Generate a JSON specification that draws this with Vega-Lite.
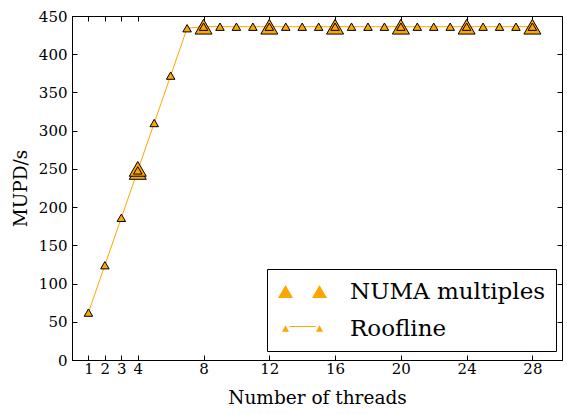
{
  "$schema": "https://vega.github.io/schema/vega-lite/v6.json",
  "width": 490,
  "height": 344,
  "autosize": "none",
  "padding": {"left": 72, "top": 16, "right": 5, "bottom": 54},
  "config": {
    "font": "DejaVu Serif",
    "view": {"stroke": "black", "strokeWidth": 1},
    "axis": {
      "grid": false,
      "ticks": true,
      "domainColor": "black",
      "tickColor": "black",
      "tickWidth": 1,
      "tickSize": 6,
      "labelFont": "DejaVu Serif",
      "labelFontSize": 15,
      "labelColor": "black",
      "titleFont": "DejaVu Serif",
      "titleFontSize": 18.5,
      "titleFontWeight": "normal",
      "titleColor": "black"
    }
  },
  "data": {
    "values": [
      {"threads": 4, "mupd": 246, "series": "NUMA multiples"},
      {"threads": 4, "mupd": 250, "series": "NUMA multiples"},
      {"threads": 8, "mupd": 436, "series": "NUMA multiples"},
      {"threads": 12, "mupd": 436, "series": "NUMA multiples"},
      {"threads": 16, "mupd": 436, "series": "NUMA multiples"},
      {"threads": 20, "mupd": 436, "series": "NUMA multiples"},
      {"threads": 24, "mupd": 436, "series": "NUMA multiples"},
      {"threads": 28, "mupd": 436, "series": "NUMA multiples"},
      {"threads": 1, "mupd": 62, "series": "Roofline"},
      {"threads": 2, "mupd": 124, "series": "Roofline"},
      {"threads": 3, "mupd": 186, "series": "Roofline"},
      {"threads": 4, "mupd": 248, "series": "Roofline"},
      {"threads": 5, "mupd": 310, "series": "Roofline"},
      {"threads": 6, "mupd": 372, "series": "Roofline"},
      {"threads": 7, "mupd": 434, "series": "Roofline"},
      {"threads": 8, "mupd": 436, "series": "Roofline"},
      {"threads": 9, "mupd": 436, "series": "Roofline"},
      {"threads": 10, "mupd": 436, "series": "Roofline"},
      {"threads": 11, "mupd": 436, "series": "Roofline"},
      {"threads": 12, "mupd": 436, "series": "Roofline"},
      {"threads": 13, "mupd": 436, "series": "Roofline"},
      {"threads": 14, "mupd": 436, "series": "Roofline"},
      {"threads": 15, "mupd": 436, "series": "Roofline"},
      {"threads": 16, "mupd": 436, "series": "Roofline"},
      {"threads": 17, "mupd": 436, "series": "Roofline"},
      {"threads": 18, "mupd": 436, "series": "Roofline"},
      {"threads": 19, "mupd": 436, "series": "Roofline"},
      {"threads": 20, "mupd": 436, "series": "Roofline"},
      {"threads": 21, "mupd": 436, "series": "Roofline"},
      {"threads": 22, "mupd": 436, "series": "Roofline"},
      {"threads": 23, "mupd": 436, "series": "Roofline"},
      {"threads": 24, "mupd": 436, "series": "Roofline"},
      {"threads": 25, "mupd": 436, "series": "Roofline"},
      {"threads": 26, "mupd": 436, "series": "Roofline"},
      {"threads": 27, "mupd": 436, "series": "Roofline"},
      {"threads": 28, "mupd": 436, "series": "Roofline"}
    ]
  },
  "layer": [
    {
      "transform": [{"filter": "datum.series === 'Roofline'"}],
      "mark": {"type": "line", "strokeWidth": 1},
      "encoding": {
        "x": {
          "field": "threads", "type": "quantitative",
          "scale": {"domain": [0, 29.8], "nice": false, "zero": false},
          "axis": {"orient": "bottom", "values": [1, 2, 3, 4, 8, 12, 16, 20, 24, 28], "title": "Number of threads", "labelPadding": -5, "titlePadding": 12, "labelFlush": false, "tickOpacity": 0}
        },
        "y": {
          "field": "mupd", "type": "quantitative",
          "scale": {"domain": [0, 450], "nice": false},
          "axis": {"orient": "left", "values": [0, 50, 100, 150, 200, 250, 300, 350, 400, 450], "title": "MUPD/s", "labelPadding": -1, "titlePadding": 8, "labelFlush": false, "tickOpacity": 0}
        },
        "color": {
          "datum": "Roofline",
          "scale": {"range": ["#FFA500"]},
          "legend": {
            "title": null,
            "orient": "none",
            "legendX": 217,
            "legendY": 297,
            "padding": 0,
            "symbolType": "stroke",
            "symbolSize": 676,
            "symbolStrokeWidth": 1,
            "labelExpr": "''",
            "labelOffset": 0,
            "labelFontSize": 1
          }
        }
      }
    },
    {
      "transform": [{"filter": "datum.series === 'NUMA multiples'"}],
      "mark": {"type": "point", "shape": "triangle-up", "filled": true, "fill": "#FFA500", "stroke": "black", "strokeWidth": 1, "opacity": 1, "size": 289},
      "encoding": {
        "x": {"field": "threads", "type": "quantitative", "axis": null},
        "y": {"field": "mupd", "type": "quantitative", "axis": null}
      }
    },
    {
      "transform": [{"filter": "datum.series === 'Roofline'"}],
      "mark": {"type": "point", "shape": "triangle-up", "filled": true, "fill": "#FFA500", "stroke": "black", "strokeWidth": 1, "opacity": 1, "size": 72},
      "encoding": {
        "x": {"field": "threads", "type": "quantitative", "axis": null},
        "y": {"field": "mupd", "type": "quantitative", "axis": null}
      }
    },
    {
      "mark": {"type": "point", "filled": true, "fill": "#FFA500", "stroke": "black", "strokeWidth": 1, "opacity": 0},
      "encoding": {
        "x": {"field": "threads", "type": "quantitative", "axis": null},
        "y": {"field": "mupd", "type": "quantitative", "axis": null},
        "shape": {
          "field": "series", "type": "nominal",
          "scale": {
            "domain": ["NUMA multiples", "Roofline"],
            "range": [
              "M-0.958,0.54L-0.333,-0.54L0.292,0.54Z M1.875,0.54L2.5,-0.54L3.125,0.54Z",
              "M-0.625,0.27L-0.333,-0.27L-0.042,0.27Z M2.208,0.27L2.5,-0.27L2.792,0.27Z"
            ]
          },
          "legend": {
            "title": null,
            "orient": "none",
            "legendX": 195,
            "legendY": 253,
            "direction": "vertical",
            "strokeColor": "black",
            "padding": 10,
            "cornerRadius": 0,
            "labelFont": "DejaVu Serif",
            "labelFontSize": 23,
            "labelColor": "black",
            "labelOffset": 48,
            "labelLimit": 400,
            "symbolSize": 576,
            "symbolFillColor": "#FFA500",
            "symbolStrokeColor": "black",
            "symbolStrokeWidth": 1,
            "symbolOpacity": 1,
            "rowPadding": 12
          }
        }
      }
    },
    {
      "transform": [{"filter": "datum.series === 'Roofline'"}],
      "mark": {"type": "point", "opacity": 0},
      "encoding": {
        "x": {"field": "threads", "type": "quantitative", "axis": {"orient": "top", "offset": -5, "tickSize": 5, "values": [1, 2, 3, 4, 8, 12, 16, 20, 24, 28], "labels": false, "title": null, "domain": false}},
        "y": {"field": "mupd", "type": "quantitative", "axis": {"orient": "right", "offset": -5, "tickSize": 5, "values": [0, 50, 100, 150, 200, 250, 300, 350, 400, 450], "labels": false, "title": null, "domain": false}}
      }
    },
    {
      "transform": [{"filter": "datum.series === 'Roofline'"}],
      "mark": {"type": "point", "opacity": 0},
      "encoding": {
        "x": {"field": "threads", "type": "quantitative", "axis": {"orient": "bottom", "offset": -5, "tickSize": 5, "values": [1, 2, 3, 4, 8, 12, 16, 20, 24, 28], "labels": false, "title": null, "domain": false}},
        "y": {"field": "mupd", "type": "quantitative", "axis": {"orient": "left", "offset": -5, "tickSize": 5, "values": [0, 50, 100, 150, 200, 250, 300, 350, 400, 450], "labels": false, "title": null, "domain": false}}
      }
    }
  ],
  "resolve": {"axis": {"x": "independent", "y": "independent"}}
}
